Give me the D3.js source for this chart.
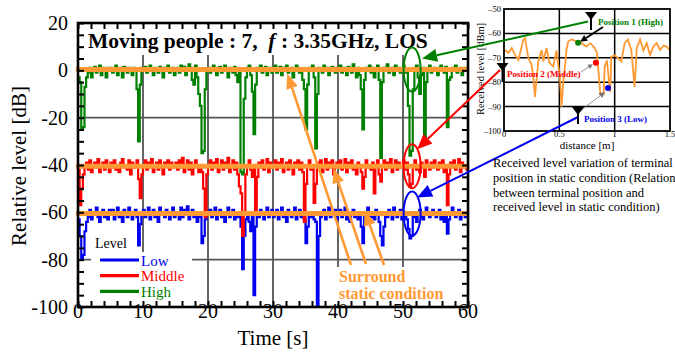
<!DOCTYPE html>
<html lang="en">
<head>
<meta charset="UTF-8">
<title>Relative level</title>
<style>
    body { margin: 0; padding: 0; overflow: hidden; background: #fff; }
    svg { display: block; font-family: "Liberation Serif", "DejaVu Serif", serif; }
</style>
</head>
<body>
<svg id="chart" width="675" height="352"></svg>
<script src="https://cdn.jsdelivr.net/npm/d3@7/dist/d3.min.js"></script>
<script>
    // samples every 0.25 s, 0..60 s
    const timeStep = 0.25;
    const high = [
        -3, -5, -25, -24, -7, -3, -1, 1, -3, 0, 1.5, -1, 0.5, 2, -2, 1, 0, -3, 1, 0.5,
        1, -1, 0.5, 2, -2, 0, 1, -3, 1.5, 0, -1, 1, 0.5, -2, 1, 0, -8, -30, -6, 1,
        0, 1.5, -1, 0.5, 2, 0, -2, 1, 0.5, -1, 1.5, 0, -3, 1, 0.5, 2, -1, 0, 1, -2,
        0.5, 1, -1, 2, 0, 1.5, -2, 0.5, 2.5, 1, -4, -6, 2, -3, -10, -15, -35, -34, -8, 0,
        1, -1, 0.5, 2, 0, -2, 1, 1.5, -1, 0, 2, 0.5, -3, 1, 0, -1, 1.5, -2, -5, 0.5,
        -43, -44, -12, -3, 1, 2, -2, -9, -27, -6, 1, 0, 2, -1, 0.5, 1.5, -2, 0, 1, -1,
        0.5, 2, -1, 0, 1.5, -2, 1, 0, 2, -1, 0.5, 1, -3, 0, 2, 1, -1, 0.5, -4, -8,
        -25, -6, 1, 0, 2, -3, -33, -10, 1, 0.5, -1, 2, 0, 1, -2, 0.5, 1.5, 0, -1, 1,
        0, 2, -1, 1, 0.5, -2, 1.5, 0, -1, 2.5, 0, -3, 1, -2, -8, -25, -4, 1, 0, 2,
        -1, 1, -3, 0.5, 2, -4, -37, -5, 1, 0, 2.5, -1, 0.5, 1, -2, 2, 0, 1, -1, 0.5,
        2, -1, 0, -15, -36, -34, -8, 1, 2, -3, -10, -2, 1, -30, -5, 0.5, 2, -1, 0, 1,
        0.5, -2, 1, 2, 0, -1, 1.5, -24, -4, -3, 1, 0, 2, -1, 0.5, 1, -2, 0, 1, 0.5,
        0
    ];
    const middle = [
        -42, -57, -50, -44, -41, -39, -42, -38, -43, -40, -39, -41, -37.5, -43, -40, -39, -42, -38, -40, -43,
        -39, -41, -38, -42, -40, -43, -39, -37.5, -41, -40, -42, -38, -44, -39, -41, -40, -38, -46, -54, -44,
        -40, -38, -42, -39, -41, -37.5, -43, -40, -39, -42, -38, -41, -44, -39, -40, -38, -42, -39, -41, -40,
        -39, -42, -38, -41, -37, -43, -40, -38, -42, -39, -44, -41, -38, -40, -43, -41, -43, -50, -62, -44,
        -40, -38, -42, -39, -41, -37.5, -43, -40, -38, -42, -39, -41, -37, -43, -40, -38, -42, -39, -44, -49,
        -52, -70, -60, -44, -40, -38, -42, -45, -40, -59, -45, -39, -41, -38, -42, -40, -37.5, -43, -39, -41,
        -40, -38, -42, -39, -41, -37.5, -43, -40, -39, -42, -38, -41, -44, -39, -40, -38, -42, -39, -43, -64,
        -48, -40, -38, -42, -41, -56, -48, -39, -41, -38, -43, -40, -37.5, -42, -39, -41, -38, -44, -40, -39,
        -41, -38, -42, -40, -37.5, -43, -39, -41, -38, -42, -40, -44, -39, -41, -43, -50, -45, -38, -41, -40,
        -42, -39, -52, -41, -38, -44, -47, -40, -38, -42, -39, -41, -37.5, -43, -40, -38, -42, -39, -41, -40,
        -38, -42, -39, -44, -49, -48, -41, -38, -42, -40, -43, -39, -41, -45, -38, -40, -42, -39, -41, -38,
        -40, -42, -39, -41, -38, -43, -40, -57, -44, -39, -41, -38, -42, -40, -37.5, -43, -39, -41, -40, -42,
        -40
    ];
    const low = [
        -63, -70, -80, -78, -68, -64, -62, -59, -63, -60, -61, -58, -62, -64, -60, -59, -62, -61, -63, -59,
        -61, -59, -63, -60, -58, -62, -61, -64, -59, -60, -62, -58, -61, -63, -60, -59, -62, -74, -65, -60,
        -59, -62, -60, -58, -63, -61, -59, -62, -60, -64, -58, -61, -60, -62, -59, -61, -63, -60, -58, -62,
        -60, -61, -63, -58, -62, -59, -61, -57.5, -63, -60, -59, -62, -61, -64, -60, -62, -73, -70, -63, -60,
        -61, -59, -62, -60, -58, -63, -61, -59, -62, -60, -64, -61, -58, -62, -60, -59, -63, -61, -62, -60,
        -66, -84, -70, -63, -61, -64, -68, -62, -95, -66, -60, -62, -59, -61, -63, -60, -58, -62, -61, -59,
        -62, -60, -59, -63, -61, -58, -62, -60, -64, -59, -61, -62, -60, -58, -63, -61, -59, -62, -60, -63,
        -73, -66, -60, -62, -61, -63, -64, -100, -70, -62, -60, -59, -63, -61, -58, -62, -60, -61, -59, -63,
        -61, -59, -62, -60, -58, -63, -61, -64, -60, -59, -62, -61, -63, -60, -66, -73, -62, -60, -58, -61,
        -62, -60, -63, -59, -61, -64, -70, -74, -66, -60, -62, -59, -61, -63, -58, -60, -62, -61, -59, -63,
        -60, -62, -63, -67, -71, -70, -62, -60, -64, -61, -59, -62, -63, -60, -58, -61, -62, -60, -59, -61,
        -62, -60, -59, -63, -61, -64, -62, -69, -63, -60, -58, -61, -62, -60, -59, -63, -61, -60, -62, -60,
        -61
    ];
    const staticLevels = [0.3, -40.5, -60.5];   // High, Middle, Low
    const xTicks = [0, 10, 20, 30, 40, 50, 60];
    const yTicks = [20, 0, -20, -40, -60, -80, -100];
    const legendNames = ["Low", "Middle", "High"];
    const legendColors = ["#0000ee", "#ff0000", "#008000"];

    // inset: received level vs distance
    const insetDist = [0.01, 0.04, 0.07, 0.10, 0.13, 0.16, 0.175, 0.19, 0.205, 0.22, 0.25, 0.265, 0.28, 0.295, 0.31,
        0.34, 0.355, 0.385, 0.41, 0.445, 0.475, 0.49, 0.505, 0.52, 0.535, 0.55, 0.565, 0.58, 0.61, 0.655,
        0.70, 0.745, 0.78, 0.82, 0.84, 0.85, 0.87, 0.90, 0.91, 0.93, 0.94, 0.96, 0.97, 1.00, 1.03,
        1.06, 1.09, 1.12, 1.15, 1.18, 1.20, 1.23, 1.26, 1.29, 1.32, 1.35, 1.38, 1.41, 1.44, 1.47, 1.50];
    const insetLevel = [-66.8, -68, -66, -68.8, -70.9, -65.4, -62.6, -62, -66, -70, -73, -78.4, -86, -78.4, -71.5,
        -66.9, -71.5, -66, -72, -73.6, -67, -73, -77.7, -90, -80, -73.6, -66.7, -63.3, -62.5, -63.3,
        -64, -65.4, -64, -66, -68, -73.6, -84.6, -85, -73.6, -71, -75.6, -84, -69.6, -69, -70,
        -71.5, -64, -62.5, -66.8, -81.9, -66, -62.5, -67, -64, -68.8, -65.4, -64, -66.8, -65, -65.4, -67];
    const insetXTicks = [0, 0.5, 1, 1.5];
    const insetYTicks = [-50, -60, -70, -80, -90, -100];
    const posNames = ["Position 1 (High)", "Position 2 (Middle)", "Position 3 (Low)"];
    const posColors = ["#008000", "#ff0000", "#0000ee"];
    const posDist = [0.67, 0.83, 0.94];
    const posLevel = [-63.8, -72, -82.4];
    const captionLines = ["Received level variation of terminal", "position in static condition (Relation",
        "between terminal position and", "received level in static condition)"];

    const orange = "#ff9933";
    const svg = d3.select("#chart");

    const x = d3.scaleLinear().domain([0, 60]).range([78, 468]);
    const y = d3.scaleLinear().domain([-100, 20]).range([307, 23]);
    const ix = d3.scaleLinear().domain([0, 1.5]).range([504, 670]);
    const iy = d3.scaleLinear().domain([-100, -50]).range([131, 9]);

    function arrow(g, x1, y1, x2, y2, color, w, len, half) {
        const a = Math.atan2(y2 - y1, x2 - x1);
        const bx = x2 - len * Math.cos(a), by = y2 - len * Math.sin(a);
        g.append("line").attr("x1", x1).attr("y1", y1).attr("x2", bx).attr("y2", by)
            .attr("stroke", color).attr("stroke-width", w);
        const px = -Math.sin(a) * half, py = Math.cos(a) * half;
        g.append("path").attr("d", `M${x2},${y2}L${bx + px},${by + py}L${bx - px},${by - py}Z`).attr("fill", color);
    }

    // grid
    const grid = svg.append("g");
    grid.selectAll(".vg").data(xTicks.slice(1, -1)).enter().append("line")
        .attr("x1", d => x(d)).attr("x2", d => x(d)).attr("y1", y(20)).attr("y2", y(-100))
        .attr("stroke", "#555").attr("stroke-width", 1.8);
    grid.selectAll(".hg").data(yTicks.slice(1, -1)).enter().append("line")
        .attr("x1", x(0)).attr("x2", x(60)).attr("y1", d => y(d)).attr("y2", d => y(d))
        .attr("stroke", "#555").attr("stroke-width", 1.8);

    // traces
    const line = d3.line().x((d, i) => x(i * timeStep)).y(d => y(d)).curve(d3.curveStepAfter);
    [[high, "#008000"], [low, "#0000ee"], [middle, "#ff0000"]].forEach(([s, c]) => {
        svg.append("path").attr("d", line(s)).attr("fill", "none").attr("stroke", c).attr("stroke-width", 2.2);
    });

    // static condition levels
    svg.selectAll(".lev").data(staticLevels).enter().append("line")
        .attr("x1", x(0) - 2).attr("x2", x(60)).attr("y1", d => y(d)).attr("y2", d => y(d))
        .attr("stroke", orange).attr("stroke-width", 5);

    // white boxes
    svg.append("rect").attr("x", 81).attr("y", 25).attr("width", 358).attr("height", 30).attr("fill", "#fff");
    svg.append("rect").attr("x", 91).attr("y", 252).attr("width", 101).attr("height", 53).attr("fill", "#fff");
    svg.append("rect").attr("x", 337).attr("y", 267).attr("width", 103).attr("height", 37).attr("fill", "#fff");

    // frame and ticks
    const ax = svg.append("g");
    ax.append("g").attr("transform", `translate(${x(0)},0)`)
        .call(d3.axisLeft(y).tickValues(d3.range(-100, 21, 5)).tickSize(-6).tickFormat(""));
    ax.append("g").attr("transform", `translate(${x(60)},0)`)
        .call(d3.axisRight(y).tickValues(d3.range(-100, 21, 5)).tickSize(-6).tickFormat(""));
    ax.append("g").attr("transform", `translate(0,${y(-100)})`)
        .call(d3.axisBottom(x).tickValues(d3.range(0, 61, 2)).tickSize(-6).tickFormat(""));
    ax.append("g").attr("transform", `translate(0,${y(20)})`)
        .call(d3.axisTop(x).tickValues(d3.range(0, 61, 2)).tickSize(-6).tickFormat(""));
    ax.selectAll(".domain").remove();
    ax.selectAll(".tick line").attr("stroke", "#000").attr("stroke-width", 2);
    svg.append("rect").attr("x", x(0)).attr("y", y(20)).attr("width", x(60) - x(0)).attr("height", y(-100) - y(20))
        .attr("fill", "none").attr("stroke", "#000").attr("stroke-width", 2.6);

    svg.selectAll(".yl").data(yTicks).enter().append("text")
        .attr("x", 68).attr("y", d => y(d) + 7).attr("text-anchor", "end").attr("font-size", 20).text(d => d);
    svg.selectAll(".xl").data(xTicks).enter().append("text")
        .attr("x", d => x(d)).attr("y", 318).attr("text-anchor", "middle").attr("font-size", 20).text(d => d);
    svg.append("text").attr("x", 273).attr("y", 345).attr("text-anchor", "middle").attr("font-size", 21).text("Time [s]");
    svg.append("text").attr("transform", "translate(26,166) rotate(-90)").attr("text-anchor", "middle")
        .attr("font-size", 21).text("Relative level [dB]");

    const title = svg.append("text").attr("x", 88).attr("y", 48).attr("font-size", 21.5).attr("font-weight", "bold")
        .style("white-space", "pre");
    title.append("tspan").text("Moving people : 7,  ");
    title.append("tspan").attr("font-style", "italic").text("f");
    title.append("tspan").text(" : 3.35GHz, LOS");

    // legend
    svg.append("text").attr("x", 95).attr("y", 248).attr("font-size", 14).text("Level");
    legendNames.forEach((n, i) => {
        const ly = 260 + i * 15.7;
        svg.append("line").attr("x1", 100).attr("x2", 139).attr("y1", ly).attr("y2", ly)
            .attr("stroke", legendColors[i]).attr("stroke-width", 3.2);
        svg.append("text").attr("x", 141).attr("y", ly + 5.5).attr("font-size", 15).attr("fill", legendColors[i]).text(n);
    });

    // surround static condition annotation
    svg.append("text").attr("x", 339).attr("y", 282).attr("font-size", 16).attr("font-weight", "bold")
        .attr("fill", orange).text("Surround");
    svg.append("text").attr("x", 339).attr("y", 299).attr("font-size", 16).attr("font-weight", "bold")
        .attr("fill", orange).text("static condition");
    const ann = svg.append("g");
    arrow(ann, 351, 265, x(32.2), y(staticLevels[0]) + 4, orange, 2.6, 15, 6);
    arrow(ann, 366, 264, x(39.3), y(staticLevels[1]) + 2, orange, 2.6, 15, 6);
    arrow(ann, 384, 265, x(44.1), y(staticLevels[2]) - 3, orange, 2.6, 15, 6);

    // ellipses around 51 s
    const ellColors = ["#008000", "#ff0000", "#0000ee"];
    staticLevels.forEach((v, i) => {
        svg.append("ellipse").attr("cx", x(51.4)).attr("cy", y(v)).attr("rx", 8.5).attr("ry", 22)
            .attr("fill", "none").attr("stroke", ellColors[i]).attr("stroke-width", 2);
    });

    // inset
    const ins = svg.append("g");
    ins.append("rect").attr("x", ix(0)).attr("y", iy(-50)).attr("width", ix(1.5) - ix(0)).attr("height", iy(-100) - iy(-50))
        .attr("fill", "#fff");
    ins.selectAll(".ivg").data(insetXTicks.slice(1, -1)).enter().append("line")
        .attr("x1", d => ix(d)).attr("x2", d => ix(d)).attr("y1", iy(-50)).attr("y2", iy(-100))
        .attr("stroke", "#000").attr("stroke-width", 1.5);
    ins.selectAll(".ihg").data(insetYTicks.slice(1, -1)).enter().append("line")
        .attr("x1", ix(0)).attr("x2", ix(1.5)).attr("y1", d => iy(d)).attr("y2", d => iy(d))
        .attr("stroke", "#000").attr("stroke-width", 1.5);
    const iline = d3.line().x((d, i) => ix(insetDist[i])).y(d => iy(d));
    ins.append("path").attr("d", iline(insetLevel)).attr("fill", "none").attr("stroke", orange).attr("stroke-width", 1.8);
    ins.append("rect").attr("x", ix(0)).attr("y", iy(-50)).attr("width", ix(1.5) - ix(0)).attr("height", iy(-100) - iy(-50))
        .attr("fill", "none").attr("stroke", "#000").attr("stroke-width", 1.8);
    ins.selectAll(".iyl").data(insetYTicks).enter().append("text")
        .attr("x", 501).attr("y", d => iy(d) + 3).attr("text-anchor", "end").attr("font-size", 8.5).text(d => "\u2013" + (-d));
    ins.selectAll(".ixl").data(insetXTicks).enter().append("text")
        .attr("x", d => ix(d)).attr("y", 137).attr("text-anchor", "middle").attr("font-size", 8.5).text(d => d);
    ins.append("text").attr("x", 587).attr("y", 148.5).attr("text-anchor", "middle").attr("font-size", 11).text("distance  [m]");
    ins.append("text").attr("transform", "translate(484,69) rotate(-90)").attr("text-anchor", "middle")
        .attr("font-size", 10.5).text("Received level [dBm]");

    // arrows from positions to ellipses
    arrow(svg, 588, 21.5, x(51.4) + 10, y(staticLevels[0]) - 11, "#008000", 2, 15, 6.5);
    arrow(svg, 500, 70, x(51.4) + 5, y(staticLevels[1]) - 17, "#ff0000", 2, 15, 6.5);
    arrow(svg, 578, 117, x(51.4) + 5, y(staticLevels[2]) - 16, "#0000ee", 2, 15, 6.5);

    // antennas
    function antenna(cx, top, h) {
        svg.append("path").attr("d", `M${cx - 6},${top}L${cx + 6},${top}L${cx},${top + 8}Z`).attr("fill", "#000");
        svg.append("line").attr("x1", cx).attr("x2", cx).attr("y1", top).attr("y2", top + h)
            .attr("stroke", "#000").attr("stroke-width", 2);
    }
    antenna(591, 12, 18);
    antenna(502.5, 63, 19);
    antenna(578, 107, 17);

    // position markers and labels
    posDist.forEach((d, i) => {
        ins.append("circle").attr("cx", ix(d)).attr("cy", iy(posLevel[i])).attr("r", 3).attr("fill", posColors[i]);
    });
    ins.append("text").attr("x", 598).attr("y", 25).attr("font-size", 9).attr("font-weight", "bold").attr("fill", posColors[0]).text(posNames[0]);
    ins.append("text").attr("x", 507).attr("y", 77).attr("font-size", 9).attr("font-weight", "bold").attr("fill", posColors[1]).text(posNames[1]);
    ins.append("text").attr("x", 584).attr("y", 122).attr("font-size", 9).attr("font-weight", "bold").attr("fill", posColors[2]).text(posNames[2]);
    arrow(ins, 603, 27, ix(posDist[0]) + 2, iy(posLevel[0]) - 1, "#000", 1.8, 7, 3.5);
    arrow(ins, 581, 72, ix(posDist[1]) - 3, iy(posLevel[1]) + 1.5, "#777", 0.8, 5, 2.5);
    arrow(ins, 580, 111, ix(posDist[2]) - 3, iy(posLevel[2]) + 4, "#777", 0.8, 6, 3);

    // caption
    svg.selectAll(".cap").data(captionLines).enter().append("text")
        .attr("x", 493).attr("y", (d, i) => 167 + i * 14.8).attr("font-size", 12.5).text(d => d);
</script>
</body>
</html>
